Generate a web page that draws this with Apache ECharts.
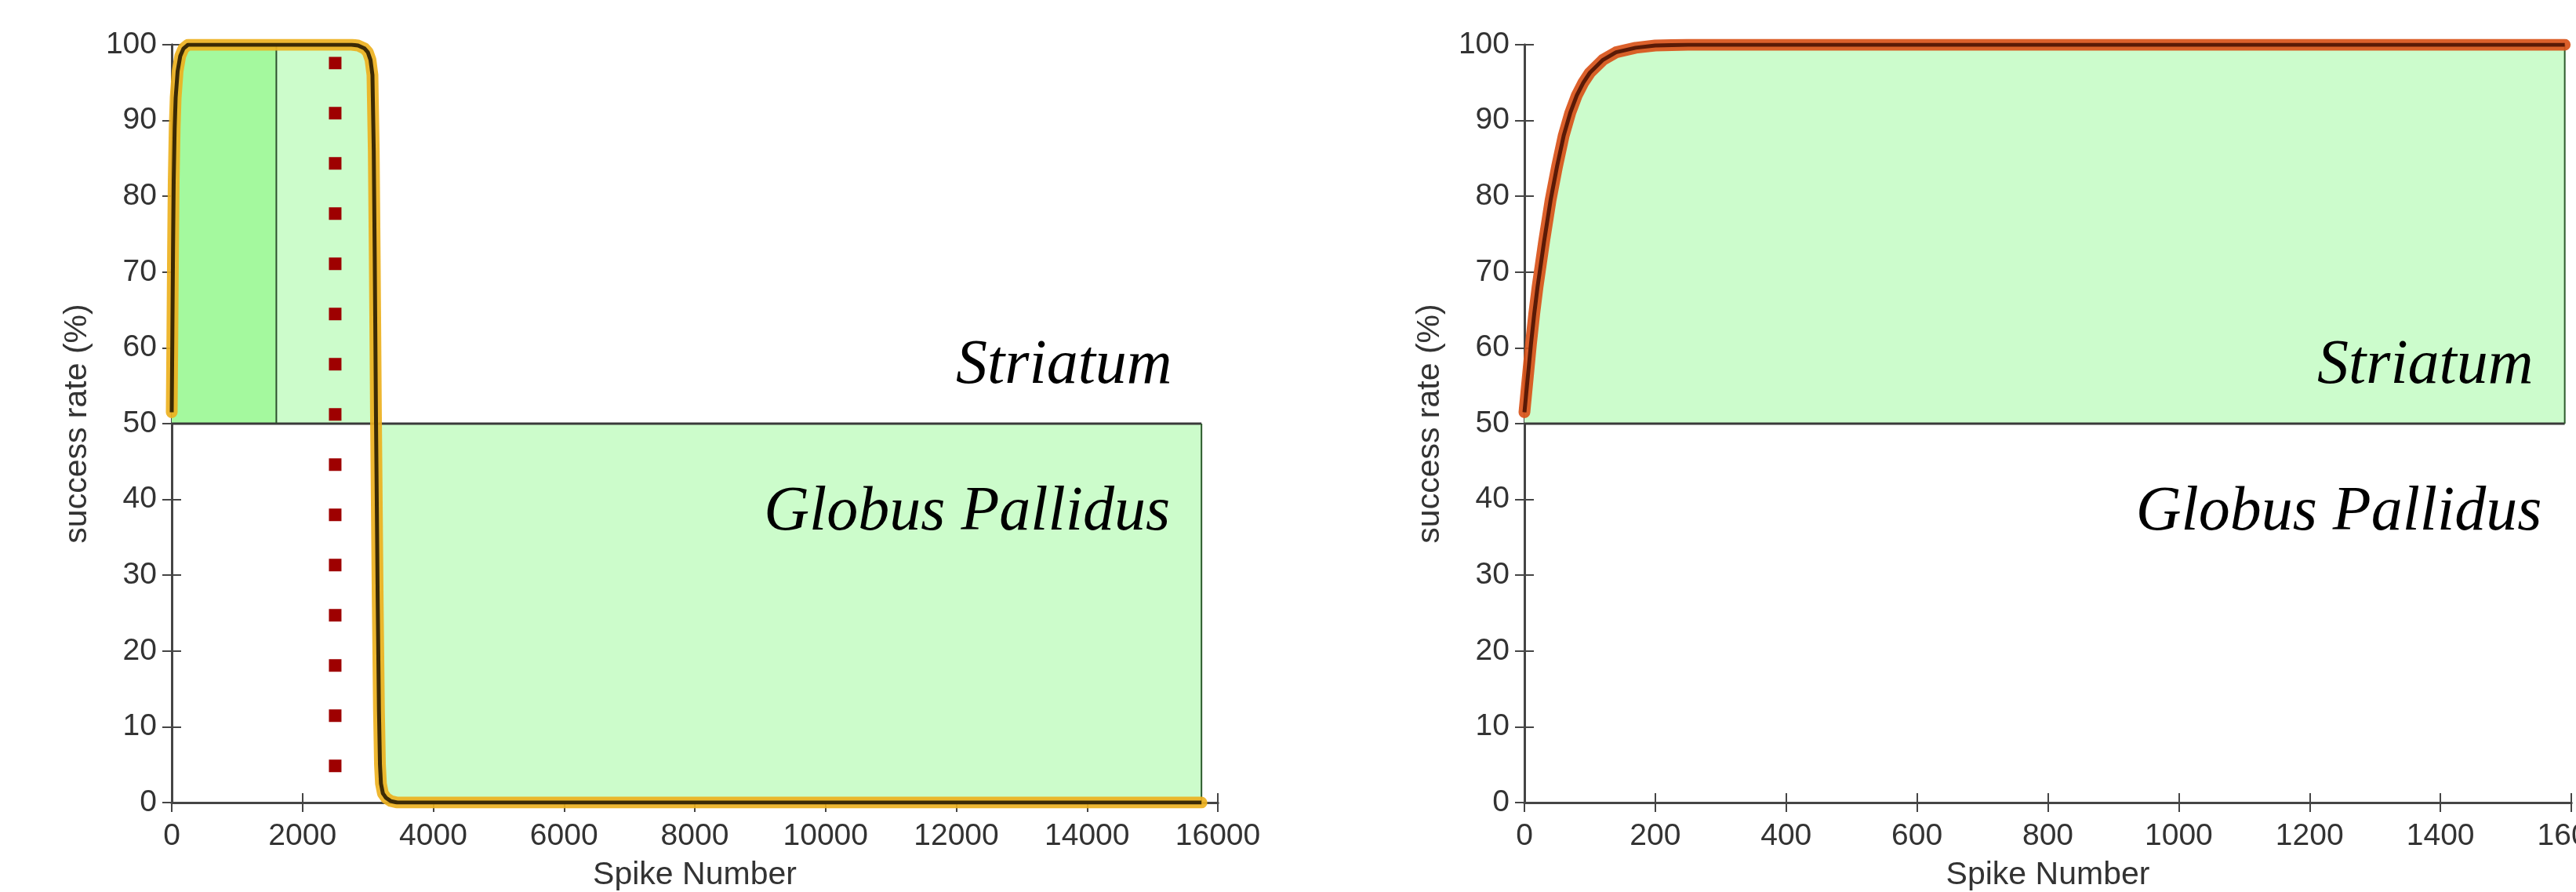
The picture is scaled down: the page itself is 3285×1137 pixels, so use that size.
<!DOCTYPE html>
<html>
<head>
<meta charset="utf-8">
<script src="https://cdn.jsdelivr.net/npm/echarts@6/dist/echarts.min.js"></script>
<style>
  html, body { margin: 0; padding: 0; background: #fff; }
  #chart { width: 3285px; height: 1137px; }
</style>
</head>
<body>
<div id="chart"></div>
<script>
// left panel: learning in striatum, then switch to globus pallidus
const leftSpike = [0, 10, 20, 30, 45, 60, 90, 130, 180, 250, 1600, 2750, 2850, 2950, 3000, 3040, 3070,
  3090, 3105, 3125, 3150, 3170, 3185, 3200, 3230, 3280, 3350, 3450, 15750]
const leftRate = [51.5, 62, 73, 82, 89, 93, 96.5, 98.5, 99.5, 100, 100, 100, 99.9, 99.5, 99, 98, 96,
  86, 72, 50, 27, 12, 5, 2.5, 1.2, 0.6, 0.2, 0, 0]

// right panel: striatum only
const rightSpike = [0, 5, 10, 15, 20, 25, 30, 40, 50, 60, 70, 80, 90, 100, 120, 140, 170, 200, 250, 1590]
const rightRate = [51.5, 56, 60.5, 64.5, 68, 71, 74, 79.5, 84, 88, 91, 93.3, 95, 96.3, 98, 99, 99.6, 99.9, 100, 100]

const regionBoundary = 50
const leftTrainEnd = 1600
const leftMarkerSpike = 2500
const leftMarkerRange = [4.0, 98.4]
const regionNames = ['Striatum', 'Globus Pallidus']

const pairs = (xs, ys) => xs.map((x, i) => [x, ys[i]])
const leftData = pairs(leftSpike, leftRate)
const rightData = pairs(rightSpike, rightRate)
const leftEnd = leftSpike[leftSpike.length - 1]
const rightEnd = rightSpike[rightSpike.length - 1]

const labelFont = { fontFamily: 'Liberation Sans, Arial', fontSize: 39, color: '#333' }
const nameFont = { fontFamily: 'Liberation Sans, Arial', fontSize: 41, color: '#333' }
const lineCol = '#454545'

const makeAxes = (grid, max, step) => {
  // matlab style: ticks point into the plot on all four sides
  const tick = () => ({ show: true, inside: false, length: -12, lineStyle: { color: lineCol, width: 2 } })
  const axisLine = () => ({ show: true, lineStyle: { color: lineCol, width: 3 } })
  const plain = v => String(v)
  const xAxes = [
    {
      type: 'value', gridIndex: grid, position: 'bottom', min: 0, max: max, interval: step,
      axisLine: axisLine(), axisTick: tick(), splitLine: { show: false },
      axisLabel: { ...labelFont, margin: 24, formatter: plain },
      name: 'Spike Number', nameLocation: 'middle', nameGap: 72, nameTextStyle: nameFont,
    },
    {
      type: 'value', gridIndex: grid, position: 'top', min: 0, max: max, interval: step,
      axisLine: axisLine(), axisTick: tick(), splitLine: { show: false }, axisLabel: { show: false },
    },
  ]
  const yAxes = [
    {
      type: 'value', gridIndex: grid, position: 'left', min: 0, max: 100, interval: 10,
      axisLine: axisLine(), axisTick: tick(), splitLine: { show: false },
      axisLabel: { ...labelFont, margin: 19, formatter: plain },
      name: 'success rate (%)', nameLocation: 'middle', nameGap: 100, nameTextStyle: nameFont,
    },
    {
      type: 'value', gridIndex: grid, position: 'right', min: 0, max: 100, interval: 10,
      axisLine: axisLine(), axisTick: tick(), splitLine: { show: false }, axisLabel: { show: false },
    },
  ]
  return { xAxes, yAxes }
}

const left = makeAxes(0, 16000, 2000)
const right = makeAxes(1, 1600, 200)

const fill = (axis, data, color) => ({
  type: 'line', xAxisIndex: axis, yAxisIndex: axis, data, symbol: 'none', z: 2,
  lineStyle: { width: 0 }, areaStyle: { color, opacity: 1, origin: regionBoundary },
})
const edge = (axis, data, color, width) => ({
  type: 'line', xAxisIndex: axis, yAxisIndex: axis, data, symbol: 'none', z: 3,
  lineStyle: { color, width },
})
const curve = (axis, data, halo, core) => [
  {
    type: 'line', xAxisIndex: axis, yAxisIndex: axis, data, symbol: 'none', z: 5,
    lineStyle: { color: halo, width: 15, opacity: 0.92, cap: 'round', join: 'round' },
  },
  {
    type: 'line', xAxisIndex: axis, yAxisIndex: axis, data, symbol: 'none', z: 6,
    lineStyle: { color: core, width: 5, join: 'round' },
  },
]

const chart = echarts.init(document.getElementById('chart'))
chart.setOption({
  animation: false,
  backgroundColor: '#fff',
  grid: [
    { left: 219, top: 57, width: 1334, height: 966, outerBoundsMode: 'none', containLabel: false },
    { left: 1944, top: 57, width: 1335, height: 966, outerBoundsMode: 'none', containLabel: false },
  ],
  xAxis: [...left.xAxes, ...right.xAxes],
  yAxis: [...left.yAxes, ...right.yAxes],
  series: [
    // left panel (axes 0)
    fill(0, leftData.filter(p => p[0] <= leftTrainEnd), '#a4f99e'),
    fill(0, leftData.filter(p => p[0] >= leftTrainEnd), '#ccfccb'),
    edge(0, [[0, regionBoundary], [leftEnd, regionBoundary]], '#3a3a3a', 3),
    edge(0, [[leftTrainEnd, regionBoundary], [leftTrainEnd, 100]], '#2d4f2d', 2),
    edge(0, [[leftEnd, 0], [leftEnd, regionBoundary]], '#2d5a2d', 2),
    {
      type: 'line', xAxisIndex: 0, yAxisIndex: 0, symbol: 'none', z: 4,
      data: leftMarkerRange.map(v => [leftMarkerSpike, v]),
      lineStyle: { color: '#9e0000', width: 16, type: [16, 48], cap: 'butt' },
    },
    ...curve(0, leftData, '#edb120', '#3b2a05'),
    // right panel (axes 2)
    fill(2, rightData, '#ccfccc'),
    edge(2, [[0, regionBoundary], [rightEnd, regionBoundary]], '#3a3a3a', 3),
    edge(2, [[rightEnd, regionBoundary], [rightEnd, 100]], '#2d5a2d', 2),
    ...curve(2, rightData, '#d95319', '#5a1a06'),
  ],
})

// region names, placed in data coordinates
const textAt = (grid, pos, text) => {
  const p = chart.convertToPixel({ gridIndex: grid }, pos)
  return {
    type: 'text', x: p[0], y: p[1], z: 10,
    style: {
      text, fill: '#000', align: 'right', verticalAlign: 'middle',
      font: 'italic 80px "Liberation Serif", "Times New Roman", serif',
    },
  }
}
chart.setOption({
  graphic: [
    textAt(0, [15300, 57.6], regionNames[0]),
    textAt(0, [15270, 38.2], regionNames[1]),
    textAt(1, [1542, 57.6], regionNames[0]),
    textAt(1, [1555, 38.2], regionNames[1]),
  ],
})
</script>
</body>
</html>
